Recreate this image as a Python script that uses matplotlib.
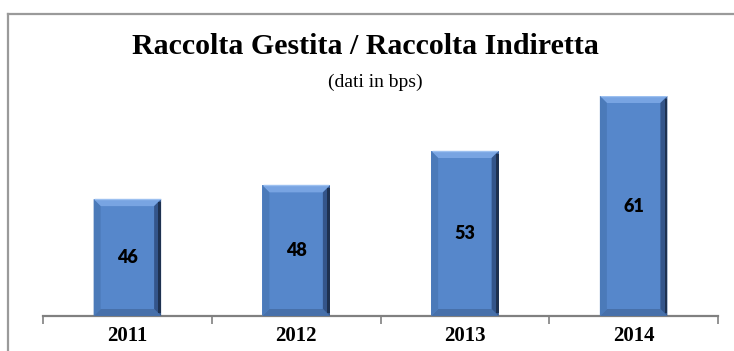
import matplotlib
matplotlib.use("Agg")
import matplotlib.pyplot as plt
from matplotlib.patches import Polygon, Rectangle

# ---------------------------------------------------------------------
# DATA
# ---------------------------------------------------------------------
years  = ["2011", "2012", "2013", "2014"]
values = [46, 48, 53, 61]

TITLE    = "Raccolta Gestita / Raccolta Indiretta"
SUBTITLE = "(dati in bps)"

# ---------------------------------------------------------------------
# STYLE
# ---------------------------------------------------------------------
FACE   = "#5687CB"
TOP    = "#78A4E2"
LEFT   = "#4B7AB9"
RIGHT  = "#34558A"
BOTTOM = "#4770AA"
BEVEL_PX = 7.0
BAR_W = 0.40
Y_MIN, Y_MAX = 29, 61

W, H = 734, 351
fig = plt.figure(figsize=(W / 100, H / 100), dpi=100)
fig.patch.set_facecolor("white")

# outer frame (only top / left edges fall inside the image)
fig.add_artist(plt.Line2D([8 / W, 1.0], [1 - 14 / H, 1 - 14 / H],
                          transform=fig.transFigure, color="#9a9a9a", lw=1.6))
fig.add_artist(plt.Line2D([8 / W, 8 / W], [0.0, 1 - 14 / H],
                          transform=fig.transFigure, color="#9a9a9a", lw=1.6))

ax = fig.add_axes([43 / W, 1 - 316 / H, (718 - 43) / W, (316 - 96) / H])
ax.set_xlim(-0.5, len(years) - 0.5)
ax.set_ylim(Y_MIN, Y_MAX)

bars = ax.bar(range(len(years)), [v - Y_MIN for v in values], bottom=Y_MIN,
              width=BAR_W, color=FACE, edgecolor="none", zorder=2)

# bevel size in data units
fig.canvas.draw()
bb = ax.get_window_extent()
bx = BEVEL_PX * (len(years)) / bb.width
by = BEVEL_PX * (Y_MAX - Y_MIN) / bb.height

for b in bars:
    x0, x1 = b.get_x(), b.get_x() + b.get_width()
    y0, y1 = b.get_y(), b.get_y() + b.get_height()
    # top bevel
    ax.add_patch(Polygon([(x0, y1), (x1, y1), (x1 - bx, y1 - by), (x0 + bx, y1 - by)],
                         closed=True, color=TOP, lw=0, zorder=3))
    # bottom bevel
    ax.add_patch(Polygon([(x0, y0), (x1, y0), (x1 - bx, y0 + by), (x0 + bx, y0 + by)],
                         closed=True, color=BOTTOM, lw=0, zorder=3))
    # left bevel
    ax.add_patch(Polygon([(x0, y0), (x0 + bx, y0 + by), (x0 + bx, y1 - by), (x0, y1)],
                         closed=True, color=LEFT, lw=0, zorder=3))
    # right bevel (darker toward the edge)
    ax.add_patch(Polygon([(x1, y0), (x1 - bx, y0 + by), (x1 - bx, y1 - by), (x1, y1)],
                         closed=True, color=RIGHT, lw=0, zorder=3))
    ax.add_patch(Rectangle((x1 - bx * 0.4, y0 + by * 0.4), bx * 0.4,
                           (y1 - y0) - by * 0.8, color="#1e3150", lw=0, zorder=3))
    # thin light rim on the top edge
    ax.plot([x0 + bx * 0.2, x1 - bx * 0.2], [y1, y1], color="#9cc0f0", lw=1.0, zorder=4)

# value labels in the middle of each bar
for i, v in enumerate(values):
    ax.text(i, (Y_MIN + v) / 2, str(v), ha="center", va="center",
            fontsize=13, fontweight="heavy", family="Lato", color="black", zorder=5)

# axes: only the bottom line, ticks between categories
for s in ["top", "right", "left"]:
    ax.spines[s].set_visible(False)
ax.spines["bottom"].set_color("#808080")
ax.spines["bottom"].set_linewidth(1.6)
ax.set_yticks([])
ax.set_xticks([i - 0.5 for i in range(len(years) + 1)])
ax.set_xticklabels([])
ax.tick_params(axis="x", length=6, width=1.2, color="#808080")
for i, yr in enumerate(years):
    ax.text(i, -0.09, yr, transform=ax.get_xaxis_transform(), ha="center", va="center",
            fontsize=15, fontweight="bold", family="Liberation Serif")

fig.text(365 / W, 1 - 46 / H, TITLE, ha="center", va="center",
         fontsize=21.5, fontweight="bold", family="Liberation Serif")
fig.text(375 / W, 1 - 82 / H, SUBTITLE, ha="center", va="center",
         fontsize=14, family="Liberation Serif")

fig.savefig("out.png", dpi=100)
plt.close(fig)
